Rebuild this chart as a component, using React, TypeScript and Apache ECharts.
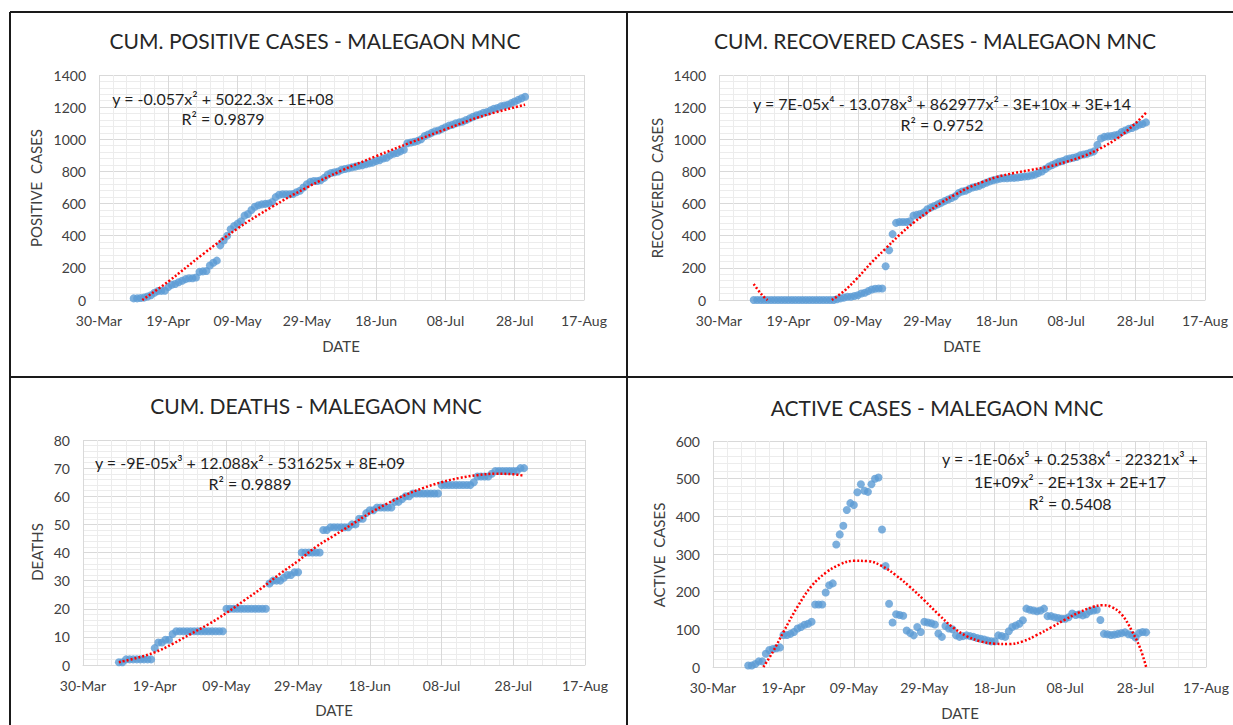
import React, { useEffect, useRef } from "react";
import * as echarts from "echarts";

// ---------- DATA ----------
const AXIS_START = "2020-03-30";
const FIRST_DATE = "2020-04-09"; // first daily observation
const X_TICK_STEP = 20; // days between labelled ticks
const xTickLabels = ["30-Mar", "19-Apr", "09-May", "29-May", "18-Jun", "08-Jul", "28-Jul", "17-Aug"];

// daily values from 09-Apr to 31-Jul
const positive = [
  10, 10, 12, 15, 22, 30, 45, 55, 57, 58,
  80, 95, 100, 110, 120, 130, 135, 135, 140, 175,
  178, 180, 215, 232, 245, 340, 370, 400, 440, 460,
  475, 490, 525, 535, 560, 580, 590, 595, 598, 600,
  610, 640, 655, 658, 658, 658, 660, 670, 680, 700,
  720, 735, 740, 740, 745, 760, 780, 790, 795, 800,
  810, 815, 820, 825, 830, 835, 838, 845, 850, 855,
  865, 870, 880, 885, 900, 910, 915, 925, 935, 975,
  980, 985, 990, 1000, 1020, 1030, 1040, 1050, 1055, 1065,
  1075, 1085, 1090, 1100, 1105, 1110, 1120, 1130, 1140, 1150,
  1155, 1165, 1170, 1180, 1190, 1195, 1205, 1210, 1215, 1225,
  1235, 1245, 1255, 1265,
];

const recovered = [
  0, 0, 0, 0, 0, 0, 0, 0, 0, 0,
  0, 0, 0, 0, 0, 0, 0, 0, 0, 0,
  0, 0, 0, 0, 5, 10, 15, 20, 20, 25,
  30, 40, 45, 55, 65, 70, 72, 72, 210, 310,
  410, 480, 485, 485, 485, 490, 525, 530, 535, 545,
  565, 575, 585, 595, 605, 615, 625, 635, 645, 665,
  675, 680, 690, 700, 705, 710, 720, 730, 738, 745,
  750, 755, 758, 758, 760, 760, 762, 765, 768, 770,
  775, 780, 790, 800, 815, 830, 840, 850, 860, 865,
  875, 880, 885, 890, 900, 905, 910, 918, 925, 965,
  1005, 1015, 1018, 1020, 1025, 1030, 1045, 1055, 1065, 1070,
  1080, 1090, 1095, 1105,
];

const deaths = [
  1, 1, 2, 2, 2, 2, 2, 2, 2, 2,
  6, 8, 8, 9, 9, 11, 12, 12, 12, 12,
  12, 12, 12, 12, 12, 12, 12, 12, 12, 12,
  20, 20, 20, 20, 20, 20, 20, 20, 20, 20,
  20, 20, 29, 30, 30, 30, 31, 32, 32, 33,
  33, 40, 40, 40, 40, 40, 40, 48, 48, 49,
  49, 49, 49, 49, 49, 50, 50, 52, 52, 54,
  55, 55, 56, 56, 56, 56, 56, 58, 58, 59,
  60, 60, 61, 61, 61, 61, 61, 61, 61, 61,
  64, 64, 64, 64, 64, 64, 64, 64, 64, 65,
  67, 67, 67, 67, 68, 69, 69, 69, 69, 69,
  69, 69, 70, 70,
];

const active = [
  4, 4, 8, 15, 15, 35, 45, 48, 50, 52,
  85, 85, 88, 93, 102, 106, 112, 115, 120, 166,
  166, 166, 198, 217, 222, 325, 352, 375, 417, 435,
  430, 464, 485, 468, 465, 485, 500, 503, 365, 268,
  168, 118, 140, 138, 136, 97, 90, 84, 106, 93,
  120, 118, 116, 113, 89, 80, 109, 102, 100, 84,
  80, 82, 84, 82, 80, 77, 75, 73, 70, 68,
  68, 84, 82, 80, 95, 106, 110, 115, 124, 155,
  152, 150, 148, 150, 155, 135, 135, 132, 130, 128,
  128, 132, 142, 138, 140, 137, 140, 148, 150, 152,
  125, 88, 87, 85, 86, 88, 90, 92, 87, 85,
  78, 90, 93, 92,
];

// trendlines: [days after 30-Mar, value]
const positiveTrend = [
  [12.5, 0], [20, 115], [30, 285], [40, 445], [50, 580], [60, 700], [70, 805],
  [80, 895], [90, 980], [100, 1062], [110, 1140], [123, 1215],
];
const recoveredTrend = [
  [10, 100], [11.5, 55], [13, 18], [14, 0], [null, null],
  [32.5, 0], [36, 55], [40, 140], [44, 235], [48, 320], [52, 405], [56, 480],
  [60, 545], [64, 605], [68, 655], [72, 700], [76, 735], [80, 765], [85, 790],
  [90, 810], [95, 830], [100, 860], [105, 895], [110, 945], [115, 1010],
  [120, 1100], [123, 1165],
];
const deathsTrend = [
  [10, 1], [15, 2.5], [20, 4.5], [25, 7.5], [30, 11], [35, 14.5], [40, 18.5],
  [45, 23], [50, 27.5], [55, 32.5], [60, 37], [65, 42], [70, 46], [75, 50],
  [80, 54], [85, 57.5], [90, 60.5], [95, 63], [100, 65], [105, 66.5],
  [110, 67.5], [115, 68], [120, 67.8], [123, 67.3],
];
const activeTrend = [
  [14.3, 0], [17, 40], [20, 93], [24, 160], [28, 215], [32, 250], [36, 272],
  [40, 282], [44, 281], [48, 268], [52, 243], [56, 212], [60, 177], [64, 140],
  [68, 106], [72, 82], [76, 68], [80, 62], [84, 61], [88, 68], [92, 85],
  [96, 105], [100, 126], [104, 145], [108, 160], [110.5, 164], [113, 160],
  [116, 140], [119, 95], [121.3, 50], [123, 0],
];

const titles = [
  "CUM. POSITIVE CASES - MALEGAON MNC",
  "CUM. RECOVERED CASES - MALEGAON MNC",
  "CUM. DEATHS - MALEGAON MNC",
  "ACTIVE CASES - MALEGAON MNC",
];
const yTitles = ["POSITIVE  CASES", "RECOVERED  CASES", "DEATHS", "ACTIVE  CASES"];
const equations = [
  ["y = -0.057x² + 5022.3x - 1E+08", "R² = 0.9879"],
  ["y = 7E-05x⁴ - 13.078x³ + 862977x² - 3E+10x + 3E+14", "R² = 0.9752"],
  ["y = -9E-05x³ + 12.088x² - 531625x + 8E+09", "R² = 0.9889"],
  ["y = -1E-06x⁵ + 0.2538x⁴ - 22321x³ +", "1E+09x² - 2E+13x + 2E+17", "R² = 0.5408"],
];
const yMax = [1400, 1400, 80, 600];
const yStep = [200, 200, 10, 100];

// ---------- LAYOUT ----------
const W = 1233;
const H = 725;
const FONT = "Lato, 'Noto Sans', sans-serif";
const grids = [
  { left: 99, top: 75, width: 485, height: 225 },
  { left: 719, top: 75, width: 486, height: 225 },
  { left: 83, top: 440, width: 502, height: 225 },
  { left: 713, top: 441, width: 493, height: 226 },
];
const titlePos = [[315, 40], [935, 40], [316, 405], [937, 407]];
const datePos = [[341, 346], [962, 346], [334, 710], [960, 713]];
const yTitlePos = [[36, 188], [657, 188], [37, 552], [659, 555]];
const eqPos = [
  { x: 223, ys: [98, 118] },
  { x: 942, ys: [103, 124] },
  { x: 250, ys: [462, 483] },
  { x: 1070, ys: [458, 481, 503] },
];

function dayOffset(dateStr: string): number {
  const a = Date.parse(AXIS_START + "T00:00:00Z");
  const b = Date.parse(dateStr + "T00:00:00Z");
  return Math.round((b - a) / 86400000);
}

function toPoints(values: number[]) {
  const start = dayOffset(FIRST_DATE);
  return values.map((v, i) => [start + i, v]);
}

const seriesValues = [positive, recovered, deaths, active];
const trends = [positiveTrend, recoveredTrend, deathsTrend, activeTrend];

export default function App() {
  const ref = useRef<HTMLDivElement>(null);

  useEffect(() => {
    if (!ref.current) return;
    const chart = echarts.init(ref.current, null, { renderer: "svg" });

    const xMax = (xTickLabels.length - 1) * X_TICK_STEP;
    const xAxes = grids.map((_, i) => ({
      type: "value",
      gridIndex: i,
      min: 0,
      max: xMax,
      interval: X_TICK_STEP,
      axisLine: { show: true, lineStyle: { color: "#D9D9D9", width: 1 } },
      axisTick: { show: false },
      axisLabel: {
        margin: 13,
        color: "#404040",
        fontFamily: FONT,
        fontSize: 14,
        formatter: (v: number) => xTickLabels[Math.round(v / X_TICK_STEP)] ?? "",
      },
      splitLine: { show: true, lineStyle: { color: "#D9D9D9", width: 1 } },
      minorTick: { show: false, splitNumber: 5 },
      minorSplitLine: { show: true, lineStyle: { color: "#ECECEC", width: 1 } },
    }));
    const yAxes = grids.map((_, i) => ({
      type: "value",
      gridIndex: i,
      min: 0,
      max: yMax[i],
      interval: yStep[i],
      axisLine: { show: false },
      axisTick: { show: false },
      axisLabel: {
        margin: 13,
        color: "#404040",
        fontFamily: FONT,
        fontSize: 14,
        formatter: (v: number) => String(v),
      },
      splitLine: { show: true, lineStyle: { color: "#D9D9D9", width: 1 } },
      minorTick: { show: false, splitNumber: 5 },
      minorSplitLine: { show: true, lineStyle: { color: "#ECECEC", width: 1 } },
    }));

    const series: any[] = [];
    seriesValues.forEach((vals, i) => {
      series.push({
        type: "scatter",
        xAxisIndex: i,
        yAxisIndex: i,
        data: toPoints(vals),
        symbol: "circle",
        symbolSize: 8,
        itemStyle: { color: "#5B9BD5" },
        z: 2,
      });
      series.push({
        type: "line",
        xAxisIndex: i,
        yAxisIndex: i,
        data: trends[i].map((p) => (p[0] === null ? ["-", "-"] : p)),
        showSymbol: false,
        symbol: "none",
        smooth: 0.4,
        connectNulls: false,
        clip: true,
        lineStyle: { color: "#FF0000", width: 2.5, type: [2, 2] },
        z: 3,
      });
    });

    const graphics: any[] = [];
    const border = "#1a1a1a";
    const lines = [
      [10, 12, W, 12],
      [10, 12, 10, H],
      [627, 12, 627, H],
      [10, 377, W, 377],
    ];
    lines.forEach(([x1, y1, x2, y2]) =>
      graphics.push({
        type: "line",
        shape: { x1, y1, x2, y2 },
        style: { stroke: border, lineWidth: 2 },
        z: 10,
      })
    );
    for (let i = 0; i < 4; i++) {
      graphics.push({
        type: "text",
        x: titlePos[i][0],
        y: titlePos[i][1],
        style: {
          text: titles[i],
          fill: "#262626",
          font: `21px ${FONT}`,
          textAlign: "center",
          textVerticalAlign: "middle",
        },
      });
      graphics.push({
        type: "text",
        x: datePos[i][0],
        y: datePos[i][1],
        style: {
          text: "DATE",
          fill: "#404040",
          font: `15px ${FONT}`,
          textAlign: "center",
          textVerticalAlign: "middle",
        },
      });
      graphics.push({
        type: "text",
        x: yTitlePos[i][0],
        y: yTitlePos[i][1],
        rotation: Math.PI / 2,
        style: {
          text: yTitles[i],
          fill: "#404040",
          font: `15px ${FONT}`,
          textAlign: "center",
          textVerticalAlign: "middle",
        },
      });
      equations[i].forEach((line, j) =>
        graphics.push({
          type: "text",
          x: eqPos[i].x,
          y: eqPos[i].ys[j],
          style: {
            text: line,
            fill: "#1f1f1f",
            font: `16px ${FONT}`,
            textAlign: "center",
            textVerticalAlign: "middle",
          },
          z: 5,
        })
      );
    }

    chart.setOption({
      animation: false,
      backgroundColor: "#ffffff",
      textStyle: { fontFamily: FONT },
      grid: grids.map((g) => ({ ...g, containLabel: false })),
      xAxis: xAxes,
      yAxis: yAxes,
      series,
      graphic: { elements: graphics },
    });

    return () => chart.dispose();
  }, []);

  return (
    <div
      ref={ref}
      style={{ position: "absolute", left: 0, top: 0, width: W, height: H, background: "#fff" }}
    />
  );
}
